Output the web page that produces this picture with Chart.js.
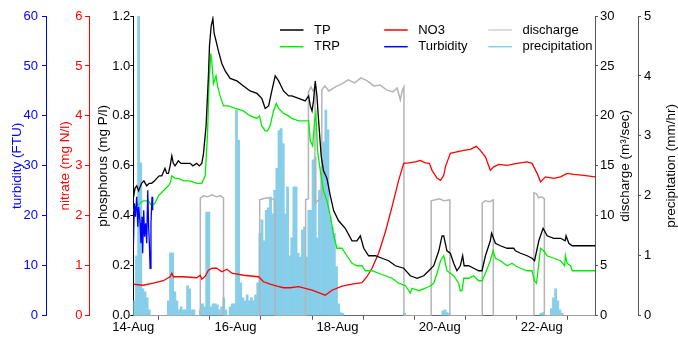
<!DOCTYPE html>
<html>
<head>
<meta charset="utf-8">
<script src="https://cdn.jsdelivr.net/npm/chart.js@4.4.1/dist/chart.umd.min.js"></script>
<style>
  html, body { margin: 0; padding: 0; background: #fff; }
  canvas { display: block; }
</style>
</head>
<body>
<canvas id="chart" width="678" height="337"></canvas>
<script>
// time axis is hours since 14-Aug 00:00
const dateTickHours = [0, 48, 96, 144, 192];
const dateTickLabels = ["14-Aug", "16-Aug", "18-Aug", "20-Aug", "22-Aug"];

// total phosphorus (mg P/l)
const tpHours = [0.0, 0.8, 1.6, 2.5, 3.9, 5.0, 6.3, 7.5, 8.6, 10.0, 11.0, 12.2, 13.4, 14.9, 15.7, 16.5, 17.3, 18.1, 18.8, 19.6,
  21.2, 22.4, 23.6, 25.0, 26.7, 28.0, 29.8, 31.0, 32.2, 33.0, 34.2, 35.3, 35.8, 36.6, 37.4, 38.0, 38.9, 40.0, 41.6, 43.2,
  45.5, 48.7, 51.8, 54.9, 58.1, 60.4, 62.0, 63.6, 65.1, 66.7, 68.3, 70.6, 73.0, 74.5, 77.7, 80.8, 82.4, 83.2, 84.0, 84.7,
  85.5, 86.3, 87.1, 88.3, 89.4, 91.0, 92.6, 94.2, 96.5, 99.6, 102.8, 105.1, 106.7, 108.3, 110.6, 113.8, 116.9, 120.0, 123.2, 127.1,
  130.2, 133.4, 136.5, 138.9, 141.2, 143.6, 145.1, 145.9, 147.4, 149.0, 150.6, 152.1, 153.7, 154.8, 155.5, 157.6, 160.0, 162.3, 163.9, 165.5,
  167.8, 168.4, 170.2, 172.5, 175.7, 178.8, 179.6, 182.0, 185.1, 187.4, 188.6, 190.6, 192.6, 194.5, 197.6, 200.8, 203.0, 203.4, 204.7, 206.3, 217];
const tpValues = [0.47, 0.51, 0.52, 0.50, 0.53, 0.54, 0.52, 0.53, 0.53, 0.54, 0.55, 0.56, 0.56, 0.59, 0.57, 0.57, 0.60, 0.64, 0.61, 0.60,
  0.62, 0.61, 0.61, 0.61, 0.61, 0.60, 0.61, 0.60, 0.61, 0.65, 0.76, 0.96, 1.08, 1.16, 1.19, 1.13, 1.10, 1.06, 1.01, 0.98,
  0.95, 0.94, 0.92, 0.90, 0.89, 0.87, 0.83, 0.84, 0.90, 0.96, 0.94, 0.90, 0.88, 0.88, 0.87, 0.86, 0.88, 0.84, 0.82, 0.86,
  0.94, 0.88, 0.78, 0.64, 0.58, 0.55, 0.48, 0.42, 0.38, 0.35, 0.30, 0.30, 0.32, 0.27, 0.24, 0.24, 0.23, 0.22, 0.20, 0.19,
  0.16, 0.15, 0.16, 0.18, 0.20, 0.26, 0.32, 0.32, 0.26, 0.25, 0.21, 0.18, 0.20, 0.24, 0.20, 0.20, 0.19, 0.18, 0.18, 0.24,
  0.30, 0.33, 0.29, 0.28, 0.27, 0.27, 0.26, 0.25, 0.24, 0.23, 0.22, 0.30, 0.35, 0.32, 0.31, 0.31, 0.30, 0.32, 0.29, 0.28, 0.28];

// total reactive phosphorus (mg P/l)
const trpHours = [0.0, 1.6, 3.2, 4.7, 7.1, 8.6, 10.2, 11.8, 14.1, 16.5, 17.3, 18.1, 19.6, 21.2, 23.6, 26.7, 29.8, 32.2, 33.8, 34.9,
  35.6, 36.4, 36.9, 37.7, 38.9, 39.6, 40.8, 42.4, 44.7, 47.9, 51.8, 54.9, 58.1, 59.3, 60.4, 62.0, 63.1, 64.3, 65.9, 67.2,
  68.3, 70.6, 73.0, 74.5, 77.7, 80.8, 82.4, 83.2, 84.3, 85.2, 85.8, 86.6, 87.9, 89.4, 91.0, 92.6, 94.2, 95.7, 98.1, 100.4,
  102.8, 105.1, 107.5, 109.1, 112.2, 115.3, 118.5, 121.6, 124.7, 127.9, 129.5, 130.2, 131.0, 134.2, 137.3, 139.7, 141.2, 142.8, 144.4, 145.9,
  147.4, 149.0, 150.6, 152.9, 153.7, 154.5, 155.3, 157.6, 160.0, 162.3, 163.9, 165.5, 167.8, 169.1, 170.2, 172.5, 175.7, 178.0, 179.6, 182.0,
  185.1, 187.4, 188.5, 189.5, 190.6, 191.4, 192.9, 194.5, 197.6, 200.8, 202.7, 203.1, 203.9, 205.5, 206.3, 217];
const trpValues = [0.42, 0.44, 0.45, 0.46, 0.46, 0.44, 0.45, 0.48, 0.50, 0.52, 0.53, 0.56, 0.55, 0.55, 0.54, 0.54, 0.53, 0.53, 0.56, 0.73,
  0.93, 1.05, 1.02, 0.93, 0.96, 0.92, 0.88, 0.84, 0.84, 0.83, 0.82, 0.80, 0.79, 0.80, 0.76, 0.74, 0.74, 0.76, 0.82, 0.85,
  0.83, 0.81, 0.80, 0.79, 0.78, 0.78, 0.78, 0.70, 0.68, 0.78, 0.81, 0.66, 0.58, 0.50, 0.46, 0.40, 0.32, 0.27, 0.27, 0.24,
  0.21, 0.20, 0.20, 0.18, 0.18, 0.17, 0.16, 0.15, 0.13, 0.12, 0.10, 0.09, 0.11, 0.10, 0.11, 0.12, 0.13, 0.17, 0.22, 0.24,
  0.18, 0.17, 0.16, 0.13, 0.10, 0.10, 0.15, 0.15, 0.16, 0.14, 0.14, 0.17, 0.22, 0.26, 0.23, 0.22, 0.20, 0.21, 0.20, 0.19,
  0.18, 0.18, 0.14, 0.13, 0.21, 0.27, 0.26, 0.24, 0.23, 0.22, 0.20, 0.24, 0.21, 0.20, 0.18, 0.18];

// nitrate (mg N/l)
const no3Hours = [0, 4.7, 9.4, 14.1, 17.3, 18.1, 18.8, 23.6, 29.8, 31.4, 32.2, 33.8, 35.3, 37.0, 39.2, 41.6, 44.0, 46.3, 51.8, 58.9,
  61.2, 64.3, 67.5, 70.6, 73.8, 77.7, 84.0, 87.1, 90.2, 93.4, 98.1, 102.8, 107.5, 109.8, 112.2, 115.3, 118.5, 121.6, 124.7, 127.1,
  129.5, 132.6, 134.9, 137.3, 139.2, 140.4, 142.8, 144.4, 145.9, 146.7, 149.0, 152.1, 155.3, 158.4, 161.2, 163.1, 165.5, 167.8, 169.4, 171.8,
  175.7, 180.4, 185.1, 187.4, 189.8, 191.4, 193.7, 197.6, 200.8, 203.9, 207.0, 211.8, 217];
const no3Values = [0.63, 0.61, 0.65, 0.70, 0.78, 0.85, 0.78, 0.78, 0.76, 0.81, 0.73, 0.79, 0.91, 0.95, 0.95, 0.88, 0.93, 0.85, 0.81, 0.78,
  0.68, 0.63, 0.59, 0.56, 0.56, 0.58, 0.51, 0.46, 0.41, 0.51, 0.59, 0.63, 0.66, 0.78, 0.95, 1.25, 1.68, 2.18, 2.71, 3.05,
  3.06, 3.08, 3.11, 3.06, 3.05, 2.91, 2.75, 2.71, 2.81, 2.98, 3.25, 3.28, 3.31, 3.33, 3.39, 3.31, 3.18, 2.91, 2.98, 3.03,
  3.01, 3.05, 3.08, 3.05, 2.85, 2.68, 2.78, 2.75, 2.78, 2.85, 2.83, 2.81, 2.78];

// turbidity (FTU), logged only at the start
const turbHours = [0.0, 0.5, 1.0, 1.6, 2.1, 2.5, 3.2, 3.6, 4.1, 4.4, 4.9, 5.3, 5.8, 6.3, 6.8, 7.2, 7.5, 7.9, 8.3, 8.8, 9.1];
const turbValues = [13.1, 22.5, 19.8, 23.8, 17.8, 21.8, 18.5, 14.5, 19.8, 12.5, 21.1, 15.8, 18.5, 14.5, 25.1, 17.8, 15.1, 9.5, 18.5, 23.8, 21.1];

// discharge (m3/sec)
const dischargeHours = [0, 31.5, 31.5, 33, 35, 37, 39, 41, 42.4, 42.4, 59.4, 59.4, 61, 63, 65, 66.7, 66.7,
  81.0, 81.0, 82.3, 82.3, 83.5, 84.5, 85.4, 85.4, 86.5, 87.5, 88.6, 88.6, 90, 92, 95, 98, 101, 104, 107, 110,
  113, 116, 119, 122, 124, 125.5, 126.5, 127.2, 127.2, 140.0, 140.0, 142, 144, 146, 148.8, 148.8,
  164.0, 164.0, 165.5, 167.5, 169.2, 169.2, 188.3, 188.3, 189.5, 190.5, 192, 193.2, 193.2, 217];
const dischargeValues = [0, 0, 11.8, 12.0, 11.9, 12.1, 11.9, 12.0, 11.8, 0, 0, 11.6, 11.7, 11.8, 11.7, 11.6, 0,
  0, 11.6, 11.7, 22.4, 22.9, 22.5, 22.8, 11.2, 11.5, 11.6, 11.9, 22.6, 23.0, 22.5, 22.9, 23.2, 23.6, 23.3, 23.8, 23.5,
  23.0, 23.1, 22.6, 22.4, 22.8, 21.6, 22.6, 22.9, 0, 0, 11.5, 11.6, 11.7, 11.5, 11.6, 0,
  0, 11.3, 11.5, 11.4, 11.6, 0, 0, 12.3, 12.2, 11.8, 11.9, 11.7, 0, 0];

// hourly precipitation (mm/hr), hour of the start of each interval
const precipHours = [0, 1, 2, 3, 4, 5, 6, 7,
  16, 17, 18, 19, 20, 21, 22, 23, 24, 25, 26, 27,
  28, 31, 32, 33, 34, 35, 36, 37, 38, 39, 40, 41, 42, 43, 45, 46, 47, 48, 49, 50,
  51, 52, 53, 54, 55, 56, 57, 58, 59, 60, 61, 62, 63, 64, 65, 66, 67, 68, 69, 70,
  71, 72, 73, 74, 75, 76, 77, 78, 79, 80, 81, 82, 83, 84, 85, 86, 87, 88, 89, 90,
  91, 92, 93, 94, 95, 96, 97, 98, 127, 145, 146, 147, 148, 191, 192, 196, 197, 198, 199, 200, 201];
const precipValues = [0.25, 1.0, 5.0, 2.55, 0.45, 0.4, 0.3, 0.1,
  0.25, 1.05, 1.05, 0.4, 0.25, 0.1, 0.15, 0.1, 0.1, 0.5, 0.45, 0.1,
  0.1, 0.1, 0.2, 0.15, 1.73, 1.73, 0.15, 0.2, 0.2, 0.18, 0.1, 0.15, 0.3, 0.1, 0.15, 0.2, 0.2, 3.43, 2.93, 0.55,
  0.3, 0.25, 0.35, 0.25, 0.3, 0.25, 0.35, 0.55, 1.37, 1.6, 1.25, 1.76, 1.8, 1.98, 1.7, 2.09, 2.46, 3.09, 3.12, 2.87,
  1.7, 2.15, 1.0, 1.3, 2.15, 2.15, 1.04, 0.98, 1.43, 1.48, 0.98, 1.76, 1.76, 2.6, 2.65, 1.3, 2.09, 2.48, 2.9, 3.43,
  3.1, 1.65, 1.48, 1.37, 0.82, 0.2, 0.05, 0.04, 0.04, 0.08, 0.1, 0.05, 0.03, 0.04, 0.05, 0.12, 0.3, 0.45, 0.25, 0.1, 0.04];

const FONT = '"Liberation Sans", Arial, sans-serif';
Chart.defaults.font.family = FONT;
Chart.defaults.font.size = 13;

function pts(xs, ys) {
  return xs.map((x, i) => ({ x: x, y: ys[i] }));
}

function series(label, xs, ys, color, axis, order, width) {
  return {
    type: "line",
    label: label,
    data: pts(xs, ys),
    borderColor: color,
    backgroundColor: color,
    borderWidth: width || 1.3,
    pointRadius: 0,
    tension: 0,
    yAxisID: axis,
    order: order
  };
}

// fixed-width axis column on the left or right of the plot
function sideAxis(opts) {
  return {
    type: "linear",
    position: opts.position,
    weight: opts.weight,
    min: 0,
    max: opts.max,
    afterFit: s => { s.width = opts.width; },
    ticks: {
      stepSize: opts.step,
      color: opts.labelColor,
      padding: opts.pad,
      font: { size: 13 },
      callback: opts.format || (v => v)
    },
    grid: { drawOnChartArea: false, drawTicks: true, tickLength: opts.tick, color: opts.lineColor },
    border: { display: true, color: opts.lineColor, width: 1 },
    title: opts.title ? {
      display: true, text: opts.title, color: opts.labelColor,
      font: { size: 13.5 }, padding: { top: opts.titlePad, bottom: 0 }
    } : { display: false }
  };
}

// in-plot legend (3 columns x 2 rows) and the right-hand axis titles
const overlay = {
  id: "overlay",
  afterDraw(chart) {
    const ctx = chart.ctx;
    const area = chart.chartArea;
    ctx.save();
    ctx.font = "13px " + FONT;
    ctx.textBaseline = "middle";
    ctx.textAlign = "left";
    chart.data.datasets.forEach((ds, i) => {
      const x = 280 + Math.floor(i / 2) * 104.2;
      const y = 30 + (i % 2) * 16.7;
      ctx.strokeStyle = ds.legendColor || ds.borderColor;
      ctx.lineWidth = 1.5;
      ctx.beginPath();
      ctx.moveTo(x, y);
      ctx.lineTo(x + 23.5, y);
      ctx.stroke();
      ctx.fillStyle = "#000";
      ctx.fillText(ds.label, x + 34, y);
    });

    const midY = (area.top + area.bottom) / 2;
    const titles = [
      ["discharge (m\u00b3/sec)", chart.scales.yQ.right - 13],
      ["precipitation (mm/hr)", chart.scales.yR.right - 7]
    ];
    ctx.font = "13.5px " + FONT;
    ctx.textAlign = "center";
    titles.forEach(([text, x]) => {
      ctx.save();
      ctx.translate(x, midY);
      ctx.rotate(-Math.PI / 2);
      ctx.fillText(text, 0, 0);
      ctx.restore();
    });
    ctx.restore();
  }
};

const datasets = [
  series("TP", tpHours, tpValues, "#000000", "yP", 2),
  series("TRP", trpHours, trpValues, "#00ee00", "yP", 3),
  series("NO3", no3Hours, no3Values, "#ff0000", "yN", 4),
  series("Turbidity", turbHours, turbValues, "#0000ff", "yT", 1),
  Object.assign(series("discharge", dischargeHours, dischargeValues, "#b4b4b4", "yQ", 5, 1.5), { legendColor: "#d0d0d0" }),
  {
    type: "bar",
    label: "precipitation",
    data: precipHours.map((h, i) => ({ x: h + 0.5, y: precipValues[i] })),
    backgroundColor: "#87ceeb",
    borderWidth: 0,
    barPercentage: 1,
    categoryPercentage: 1,
    yAxisID: "yR",
    order: 6,
    legendColor: "#87ceeb"
  }
];

new Chart(document.getElementById("chart"), {
  type: "line",
  data: { datasets: datasets },
  options: {
    responsive: false,
    animation: false,
    layout: { padding: { top: 16, left: 0, right: 0, bottom: 0 } },
    plugins: { legend: { display: false }, tooltip: { enabled: false } },
    scales: {
      x: {
        type: "linear",
        min: 0,
        max: 217,
        offset: false,
        afterFit: s => { s.height = 21.3; },
        ticks: {
          stepSize: 24,
          includeBounds: false,
          autoSkip: false,
          maxRotation: 0,
          padding: 0,
          color: "#000",
          callback: v => {
            const i = dateTickHours.indexOf(v);
            return i >= 0 ? dateTickLabels[i] : "";
          }
        },
        grid: { drawOnChartArea: false, drawTicks: true, tickLength: 4, color: "#555" },
        border: { display: true, color: "#666", width: 1 }
      },
      yP: sideAxis({ position: "left", weight: 0, width: 44.3, max: 1.2, step: 0.2, labelColor: "#000", lineColor: "#000",
        pad: 0, tick: 3, title: "phosphorus (mg P/l)", titlePad: 6.2, format: v => v.toFixed(1) }),
      yN: sideAxis({ position: "left", weight: 1, width: 43, max: 6, step: 1, labelColor: "#ff0000", lineColor: "#ff0000",
        pad: 2.6, tick: 4, title: "nitrate (mg N/l)", titlePad: 11.2 }),
      yT: sideAxis({ position: "left", weight: 2, width: 46, max: 60, step: 10, labelColor: "#0000ff", lineColor: "#0000ff",
        pad: 4, tick: 4, title: "turbidity (FTU)", titlePad: 9 }),
      yQ: sideAxis({ position: "right", weight: 0, width: 43, max: 30, step: 5, labelColor: "#000", lineColor: "#555",
        pad: 2, tick: 3 }),
      yR: sideAxis({ position: "right", weight: 1, width: 40, max: 5, step: 1, labelColor: "#000", lineColor: "#555",
        pad: 3, tick: 3 })
    }
  },
  plugins: [overlay]
});
</script>
</body>
</html>
